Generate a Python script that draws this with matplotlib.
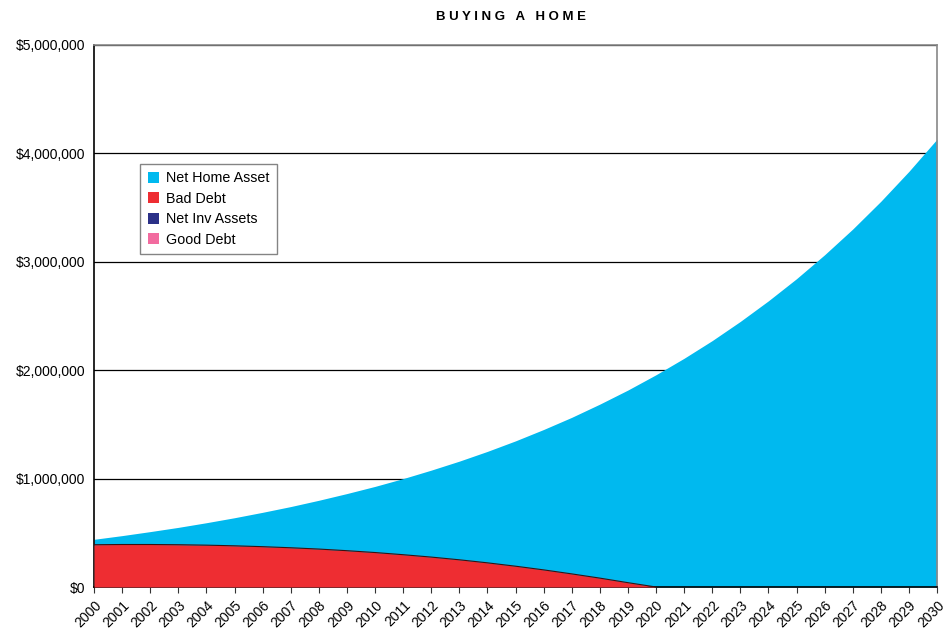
import numpy as np
import matplotlib.pyplot as plt
from matplotlib.patches import Patch
from matplotlib.ticker import FuncFormatter

plt.rcParams['font.family'] = ['Liberation Sans', 'DejaVu Sans']

# data (dollars)
years = list(range(2000, 2031))
net_home = [440e3, 474e3, 511e3, 550e3, 593e3, 639e3, 689e3, 742e3, 800e3, 862e3,
            928e3, 1000e3, 1078e3, 1161e3, 1251e3, 1348e3, 1453e3, 1565e3, 1687e3, 1817e3,
            1958e3, 2110e3, 2273e3, 2450e3, 2640e3, 2844e3, 3065e3, 3302e3, 3558e3, 3834e3,
            4131e3]
bad_debt = [390e3, 392e3, 392e3, 390e3, 386e3, 380e3, 372e3, 362e3, 350e3, 335e3,
            318e3, 298e3, 276e3, 251e3, 223e3, 192e3, 158e3, 121e3, 82e3, 40e3,
            0, 0, 0, 0, 0, 0, 0, 0, 0, 0, 0]
net_inv = [0] * len(years)
good_debt = [0] * len(years)

names = ['Net Home Asset', 'Bad Debt', 'Net Inv Assets', 'Good Debt']
colors = ['#00b9ef', '#ee2d32', '#2b3087', '#f26b9f']

fig = plt.figure(figsize=(9.46, 6.35), dpi=100)
ax = fig.add_axes([94/946, 1 - 587/635, 843/946, 542/635])

x = np.arange(len(years))
ax.fill_between(x, 0, net_home, color=colors[0], lw=0, zorder=2)
ax.fill_between(x, 0, bad_debt, color=colors[1], lw=0, zorder=3)
red_end = bad_debt.index(0) + 1
ax.plot(x[:red_end], bad_debt[:red_end], color='#3a1010', lw=0.8, zorder=4)
ax.fill_between(x, 0, net_inv, color=colors[2], lw=0, zorder=3)
ax.fill_between(x, 0, good_debt, color=colors[3], lw=0, zorder=3)

ax.set_xlim(0, len(years) - 1)
ax.set_ylim(0, 5e6)
ax.set_yticks(np.arange(0, 5.01e6, 1e6))
ax.yaxis.set_major_formatter(FuncFormatter(lambda v, p: '${:,.0f}'.format(v)))
ax.set_xticks(x)
ax.set_xticklabels([str(y) for y in years], rotation=45, ha='right', va='top',
                   rotation_mode='anchor')
ax.tick_params(axis='both', labelsize=10, length=4, color='#333333')
ax.tick_params(axis='y', length=0, pad=6)
ax.tick_params(axis='x', pad=4, direction='out')

ax.grid(axis='y', color='black', lw=0.9, zorder=1)
ax.set_axisbelow(True)
for s in ['top', 'right']:
    ax.spines[s].set_color('#888888')
    ax.spines[s].set_linewidth(1.2)
ax.spines['left'].set_color('black')
ax.spines['bottom'].set_color('black')
ax.spines['left'].set_linewidth(1.2)
ax.spines['bottom'].set_linewidth(1.2)

handles = [Patch(facecolor=c, edgecolor='none') for c in colors]
leg = ax.legend(handles, names, loc='upper left', bbox_to_anchor=(0.055, 0.78),
                fontsize=10.3, frameon=True, fancybox=False, handlelength=0.8,
                handleheight=0.8, handletextpad=0.5, labelspacing=0.45,
                borderpad=0.5, borderaxespad=0)
leg.get_frame().set_edgecolor('#666666')
leg.get_frame().set_linewidth(1.0)
leg.set_zorder(10)

fig.text(511/946, 1 - 17/635, 'B U Y I N G   A   H O M E', ha='center', va='center',
         fontsize=9.5, fontweight='bold')

plt.savefig('out.png', dpi=100)
